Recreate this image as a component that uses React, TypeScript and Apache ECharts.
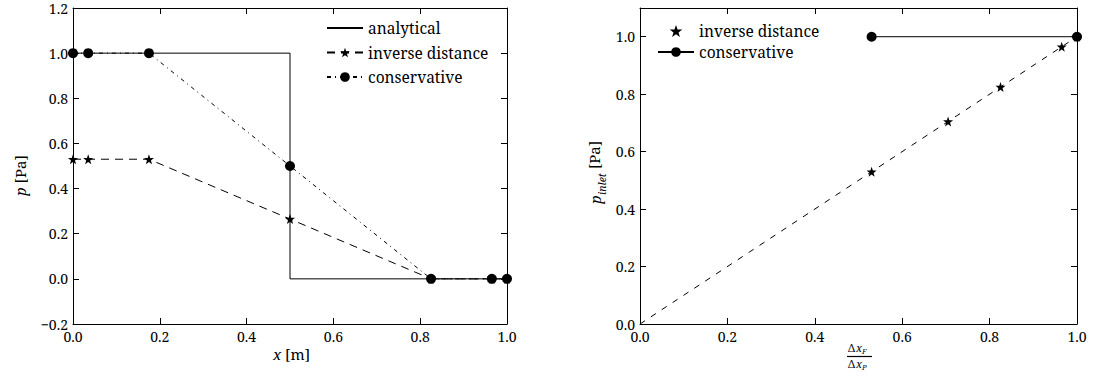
import React, { useEffect, useRef } from "react";
import * as echarts from "echarts";

// ---- data ----
const leftX = [0, 0.035, 0.175, 0.5, 0.825, 0.965, 1.0];
const leftInverse = [0.53, 0.53, 0.53, 0.265, 0, 0, 0];
const leftConservative = [1, 1, 1, 0.5, 0, 0, 0];
const analyticalX = [0, 0.5, 0.5, 1.0];
const analyticalY = [1, 1, 0, 0];

const rightInverseX = [0.53, 0.705, 0.825, 0.965, 1.0];
const rightInverseY = [0.53, 0.705, 0.825, 0.965, 1.0];
const rightConservativeX = [0.53, 1.0];
const rightConservativeY = [1, 1];
const diagonalX = [0, 1];
const diagonalY = [0, 1];

const legendLeft = ["analytical", "inverse distance", "conservative"];
const legendRight = ["inverse distance (r)", "conservative (r)"];

const STAR =
  "path://M50 0 L61.76 33.82 L97.55 34.55 L69.02 56.18 L79.39 90.45 L50 70 L20.61 90.45 L30.98 56.18 L2.45 34.55 L38.24 33.82 Z";

const FONT = "Noto Serif";

const zip = (xs: number[], ys: number[]) => xs.map((x, i) => [x, ys[i]]);

const fmt = (v: number) => {
  const r = Math.round(v * 10) / 10;
  if (Math.abs(Math.round(v * 5) - v * 5) > 1e-6) return "";
  const s = Math.abs(r).toFixed(1);
  return r < 0 ? "\u2212" + s : s;
};

function axisBase(extra: any) {
  return {
    type: "value",
    axisLine: { show: true, onZero: false, lineStyle: { color: "#000", width: 1 } },
    axisTick: { show: true, inside: true, length: 6, lineStyle: { color: "#000", width: 1 } },
    splitLine: { show: false },
    axisLabel: { show: true, color: "#000", fontFamily: FONT, fontSize: 14, margin: 5, formatter: fmt },
    ...extra,
  };
}

export default function App() {
  const ref = useRef<HTMLDivElement>(null);
  useEffect(() => {
    if (!ref.current) return;
    const chart = echarts.init(ref.current, undefined, { renderer: "svg" });
    const noLabel = { show: false };
    const option: any = {
      animation: false,
      backgroundColor: "#fff",
      textStyle: { fontFamily: FONT },
      grid: [
        { left: 73, top: 8, width: 434, height: 316 },
        { left: 640, top: 8, width: 437, height: 316 },
      ],
      xAxis: [
        axisBase({ gridIndex: 0, position: "bottom", min: 0, max: 1, interval: 0.2 }),
        axisBase({ gridIndex: 0, position: "top", min: 0, max: 1, interval: 0.2, axisLabel: noLabel }),
        axisBase({ gridIndex: 1, position: "bottom", min: 0, max: 1, interval: 0.2 }),
        axisBase({ gridIndex: 1, position: "top", min: 0, max: 1, interval: 0.2, axisLabel: noLabel }),
      ],
      yAxis: [
        axisBase({ gridIndex: 0, position: "left", min: -0.2, max: 1.2, interval: 0.2 }),
        axisBase({ gridIndex: 0, position: "right", min: -0.2, max: 1.2, interval: 0.2, axisLabel: noLabel }),
        axisBase({ gridIndex: 1, position: "left", min: 0, max: 1.1, interval: 0.2 }),
        axisBase({ gridIndex: 1, position: "right", min: 0, max: 1.1, interval: 0.2, axisLabel: noLabel }),
      ],
      legend: [
        {
          data: [
            { name: legendLeft[0], itemStyle: { opacity: 0 } },
            legendLeft[1],
            legendLeft[2],
          ],
          orient: "vertical",
          left: 321,
          top: 15,
          itemWidth: 36,
          itemHeight: 12,
          itemGap: 8.5,
          textStyle: { fontFamily: FONT, fontSize: 15.5, color: "#000" },
          selectedMode: false,
        },
        {
          data: legendRight,
          orient: "vertical",
          left: 652,
          top: 18,
          itemWidth: 36,
          itemHeight: 12,
          itemGap: 5,
          formatter: (n: string) => n.replace(" (r)", ""),
          textStyle: { fontFamily: FONT, fontSize: 15.5, color: "#000" },
          selectedMode: false,
        },
      ],
      series: [
        {
          name: "analytical",
          type: "line",
          xAxisIndex: 0,
          yAxisIndex: 0,
          data: zip(analyticalX, analyticalY),
          showSymbol: false,
          symbol: "none",
          lineStyle: { color: "#000", width: 1, type: "solid" },
          itemStyle: { color: "#000" },
        },
        {
          name: "inverse distance",
          type: "line",
          xAxisIndex: 0,
          yAxisIndex: 0,
          data: zip(leftX, leftInverse),
          symbol: STAR,
          symbolSize: 10,
          lineStyle: { color: "#000", width: 1, type: [8, 6] },
          itemStyle: { color: "#000" },
        },
        {
          name: "conservative",
          type: "line",
          xAxisIndex: 0,
          yAxisIndex: 0,
          data: zip(leftX, leftConservative),
          symbol: "circle",
          symbolSize: 10,
          lineStyle: { color: "#000", width: 1, type: [4, 4, 1, 4] },
          itemStyle: { color: "#000" },
        },
        {
          name: "diagonal",
          type: "line",
          xAxisIndex: 2,
          yAxisIndex: 2,
          data: zip(diagonalX, diagonalY),
          symbol: "none",
          lineStyle: { color: "#000", width: 1, type: [6, 7] },
        },
        {
          name: "inverse distance (r)",
          type: "scatter",
          xAxisIndex: 2,
          yAxisIndex: 2,
          data: zip(rightInverseX, rightInverseY),
          symbol: STAR,
          symbolSize: 10,
          itemStyle: { color: "#000", opacity: 1 },
        },
        {
          name: "conservative (r)",
          type: "line",
          xAxisIndex: 2,
          yAxisIndex: 2,
          data: zip(rightConservativeX, rightConservativeY),
          symbol: "circle",
          symbolSize: 10,
          lineStyle: { color: "#000", width: 1, type: "solid" },
          itemStyle: { color: "#000" },
        },
      ],
      graphic: [
        {
          type: "text",
          left: 273,
          top: 346,
          style: {
            text: "{i|x} [m]",
            fontFamily: FONT,
            fontSize: 15,
            fill: "#000",
            rich: { i: { fontStyle: "italic", fontFamily: FONT, fontSize: 15 } },
          },
        },
        {
          type: "group",
          x: 20,
          y: 176,
          rotation: Math.PI / 2,
          children: [
            {
              type: "text",
              x: -20,
              y: 0,
              style: {
                text: "{i|p} [Pa]",
                fontFamily: FONT,
                fontSize: 15,
                fill: "#000",
                textVerticalAlign: "middle",
                rich: { i: { fontStyle: "italic", fontFamily: FONT, fontSize: 15 } },
              },
            },
          ],
        },
        {
          type: "group",
          x: 596,
          y: 170,
          rotation: Math.PI / 2,
          children: [
            {
              type: "text",
              x: -34,
              y: -9,
              style: { text: "p", fontFamily: FONT, fontStyle: "italic", fontSize: 15, fill: "#000" },
            },
            {
              type: "text",
              x: -25,
              y: 0,
              style: { text: "inlet", fontFamily: FONT, fontStyle: "italic", fontSize: 10.5, fill: "#000" },
            },
            {
              type: "text",
              x: -3,
              y: -10,
              style: { text: " [Pa]", fontFamily: FONT, fontSize: 15, fill: "#000" },
            },
          ],
        },
        {
          type: "group",
          x: 848,
          y: 342,
          children: [
            { type: "text", x: 0, y: 0, style: { text: "\u0394", fontFamily: FONT, fontSize: 11, fill: "#000" } },
            { type: "text", x: 8, y: 0, style: { text: "x", fontFamily: FONT, fontStyle: "italic", fontSize: 11, fill: "#000" } },
            { type: "text", x: 14, y: 5, style: { text: "F", fontFamily: FONT, fontStyle: "italic", fontSize: 7.5, fill: "#000" } },
            { type: "line", shape: { x1: -1, y1: 14.5, x2: 24, y2: 14.5 }, style: { stroke: "#000", lineWidth: 1.2 } },
            { type: "text", x: 0, y: 16, style: { text: "\u0394", fontFamily: FONT, fontSize: 11, fill: "#000" } },
            { type: "text", x: 8, y: 16, style: { text: "x", fontFamily: FONT, fontStyle: "italic", fontSize: 11, fill: "#000" } },
            { type: "text", x: 14, y: 21, style: { text: "P", fontFamily: FONT, fontStyle: "italic", fontSize: 7.5, fill: "#000" } },
          ],
        },
      ],
    };
    chart.setOption(option);
    return () => chart.dispose();
  }, []);
  return (
    <div
      ref={ref}
      style={{ position: "absolute", left: 0, top: 0, width: 1093, height: 378, background: "#fff" }}
    />
  );
}
